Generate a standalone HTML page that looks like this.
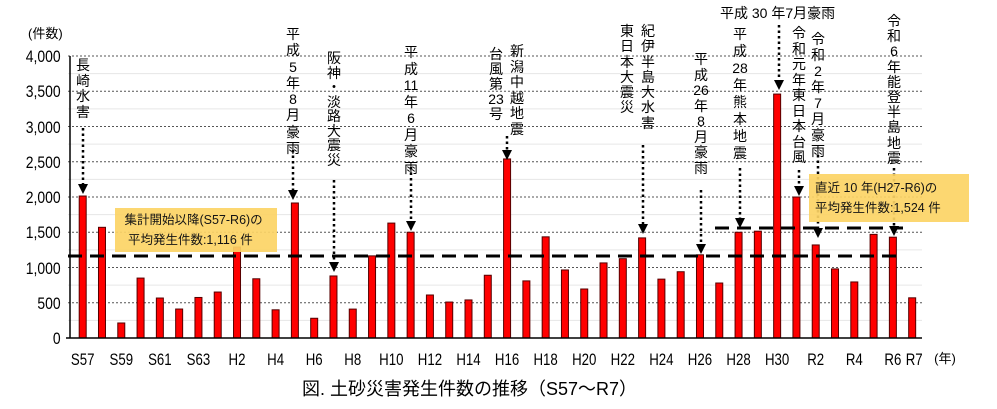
<!DOCTYPE html>
<html><head><meta charset="utf-8"><style>
html,body{margin:0;padding:0;background:#fff;}
#c{position:relative;width:997px;height:409px;overflow:hidden;font-family:"Liberation Sans","Noto Sans CJK JP",sans-serif;color:#000;}
.v{position:absolute;width:20px;margin-left:-10px;text-align:center;font-size:14px;}
svg{position:absolute;left:0;top:0;}
.box{position:absolute;background:#fcd466;opacity:0.92;font-size:12.5px;line-height:20px;padding:2px 6px;box-sizing:border-box;}
</style></head><body><div id="c">
<svg width="997" height="409" viewBox="0 0 997 409" font-family="Liberation Sans, Noto Sans CJK JP, sans-serif">
<g stroke="#e6e6e6" stroke-width="1">
<line x1="68" x2="922" y1="320.4" y2="320.4"/><line x1="68" x2="922" y1="285.1" y2="285.1"/><line x1="68" x2="922" y1="249.9" y2="249.9"/><line x1="68" x2="922" y1="214.6" y2="214.6"/><line x1="68" x2="922" y1="179.4" y2="179.4"/><line x1="68" x2="922" y1="144.1" y2="144.1"/><line x1="68" x2="922" y1="108.9" y2="108.9"/><line x1="68" x2="922" y1="73.6" y2="73.6"/>
</g>
<g stroke="#555" stroke-width="1" stroke-dasharray="2,2">
<line x1="68" x2="922" y1="302.8" y2="302.8"/><line x1="68" x2="922" y1="267.5" y2="267.5"/><line x1="68" x2="922" y1="232.3" y2="232.3"/><line x1="68" x2="922" y1="197" y2="197"/><line x1="68" x2="922" y1="161.8" y2="161.8"/><line x1="68" x2="922" y1="126.5" y2="126.5"/><line x1="68" x2="922" y1="91.3" y2="91.3"/><line x1="68" x2="922" y1="56" y2="56"/>
</g>
<g id="bars" fill="#ff0000" stroke="#550000" stroke-width="1"></g>
<line x1="70" y1="56" x2="70" y2="338" stroke="#000" stroke-width="1.5"/>
<line x1="66" y1="338" x2="922" y2="338" stroke="#000" stroke-width="1.5"/>
<g font-size="17" text-anchor="end" transform="scale(0.82,1)">
<text x="74" y="344">0</text>
<text x="74" y="309">500</text>
<text x="74" y="274">1,000</text>
<text x="74" y="238">1,500</text>
<text x="74" y="203">2,000</text>
<text x="74" y="168">2,500</text>
<text x="74" y="133">3,000</text>
<text x="74" y="97">3,500</text>
<text x="74" y="62">4,000</text>
</g>
<text x="28" y="38" font-size="13">(件数)</text>
<g id="xl" font-size="17" text-anchor="middle"></g>
<text x="945" y="363" font-size="13" text-anchor="middle">(年)</text>
<text x="302" y="395" font-size="18">図. 土砂災害発生件数の推移（S57～R7）</text>
<g stroke="#000" stroke-width="3" stroke-dasharray="14,8">
<line x1="68" x2="903" y1="256" y2="256"/>
<line x1="715" x2="903" y1="228" y2="228"/>
</g>
<g stroke="#000" stroke-width="2.5" stroke-dasharray="2.5,3" id="arr"></g>
<g fill="#000" id="heads"></g>
<text x="720" y="18" font-size="14">平成 30 年7月豪雨</text>
</svg>
<div class="box" style="left:115px;top:208px;width:162px;height:44px;">&nbsp;集計開始以降(S57-R6)の<br>&nbsp;&nbsp;平均発生件数:1,116 件</div>
<div class="box" style="left:809px;top:174px;width:160px;height:48px;padding-top:4px;">直近 10 年(H27-R6)の<br>平均発生件数:1,524 件</div>
<div class="v" style="left:83px;top:58px;line-height:15.7px">長<br>崎<br>水<br>害</div>
<div class="v" style="left:293px;top:26px;line-height:16.3px">平<br>成<br>5<br>年<br>8<br>月<br>豪<br>雨</div>
<div class="v" style="left:334px;top:51px;line-height:14.5px">阪<br>神<br>・<br>淡<br>路<br>大<br>震<br>災</div>
<div class="v" style="left:411px;top:44px;line-height:16.5px">平<br>成<br>11<br>年<br>6<br>月<br>豪<br>雨</div>
<div class="v" style="left:496px;top:47px;line-height:15px">台<br>風<br>第<br>23<br>号</div>
<div class="v" style="left:517px;top:44px;line-height:15.5px">新<br>潟<br>中<br>越<br>地<br>震</div>
<div class="v" style="left:627px;top:24px;line-height:15.3px">東<br>日<br>本<br>大<br>震<br>災</div>
<div class="v" style="left:648px;top:24px;line-height:15.3px">紀<br>伊<br>半<br>島<br>大<br>水<br>害</div>
<div class="v" style="left:701px;top:52px;line-height:15.5px">平<br>成<br>26<br>年<br>8<br>月<br>豪<br>雨</div>
<div class="v" style="left:740px;top:26px;line-height:17px">平<br>成<br>28<br>年<br>熊<br>本<br>地<br>震</div>
<div class="v" style="left:799px;top:26px;line-height:15.5px">令<br>和<br>元<br>年<br>東<br>日<br>本<br>台<br>風</div>
<div class="v" style="left:818px;top:31px;line-height:16px">令<br>和<br>2<br>年<br>7<br>月<br>豪<br>雨</div>
<div class="v" style="left:894px;top:14px;line-height:15.2px">令<br>和<br>6<br>年<br>能<br>登<br>半<br>島<br>地<br>震</div>
</div>
<script>
var v=[2014,1570,213,850,567,411,575,652,1290,840,400,1915,280,880,410,1165,1630,1500,610,510,540,890,2540,810,1435,965,695,1065,1125,1420,835,940,1180,780,1500,1515,3460,2000,1320,980,795,1470,1430,570];
var lab=["S57","S59","S61","S63","H2","H4","H6","H8","H10","H12","H14","H16","H18","H20","H22","H24","H26","H28","H30","R2","R4","R6"];
var ns="http://www.w3.org/2000/svg",b=document.getElementById("bars"),xl=document.getElementById("xl");
function cx(i){return 82.7+i*19.29;}
v.forEach(function(d,i){var h=d*0.0705,r=document.createElementNS(ns,"rect");r.setAttribute("x",cx(i)-3.5);r.setAttribute("y",338-h);r.setAttribute("width",7);r.setAttribute("height",h);b.appendChild(r);});
function addL(s,x){var t=document.createElementNS(ns,"text");t.setAttribute("x",x/0.78);t.setAttribute("y",365);t.setAttribute("transform","scale(0.78,1)");t.textContent=s;xl.appendChild(t);}
lab.forEach(function(s,k){addL(s,cx(k*2));});
addL("R7",cx(43)+2);
var arrs=[[83,128,184],[293,150,190],[334,180,262],[411,167,221],[507,136,150],[643,145,224],[701,190,244],[740,168,218],[779,25,80],[799,170,186],[818,155,228],[894,168,226]];
var a=document.getElementById("arr"),hd=document.getElementById("heads");
arrs.forEach(function(p){var l=document.createElementNS(ns,"line");l.setAttribute("x1",p[0]);l.setAttribute("x2",p[0]);l.setAttribute("y1",p[1]);l.setAttribute("y2",p[2]);a.appendChild(l);
var g=document.createElementNS(ns,"polygon");g.setAttribute("points",(p[0]-5)+","+p[2]+" "+(p[0]+5)+","+p[2]+" "+p[0]+","+(p[2]+10));hd.appendChild(g);});
</script>
</body></html>
